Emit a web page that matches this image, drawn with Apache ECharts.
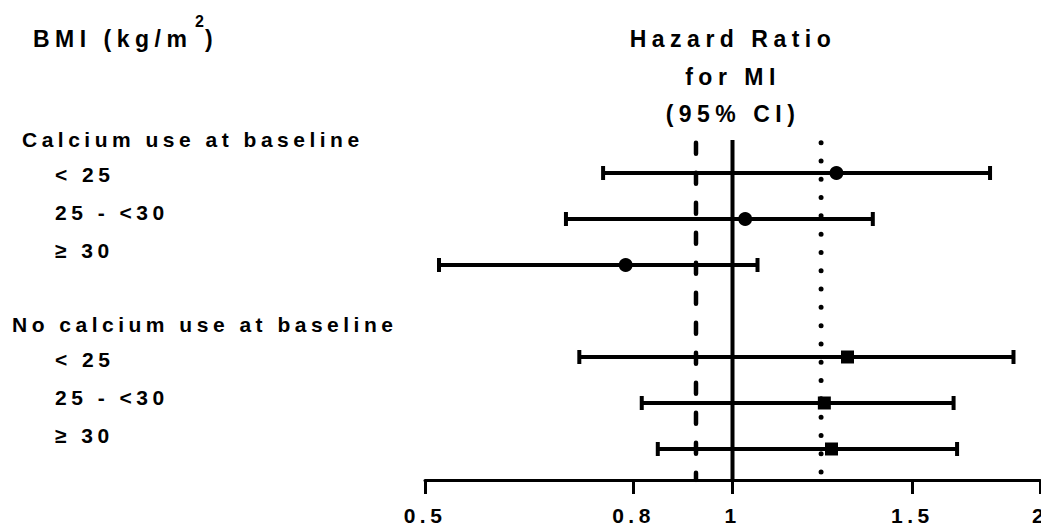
<!DOCTYPE html>
<html>
<head>
<meta charset="utf-8">
<script src="https://cdn.jsdelivr.net/npm/echarts@6/dist/echarts.min.js"></script>
<style>
html, body { margin: 0; padding: 0; background: #fff; }
#chart { width: 1041px; height: 528px; }
#chart text { letter-spacing: 4.5px; }
#chart text[style*="23px"] { letter-spacing: 5.5px; }
</style>
</head>
<body>
<div id="chart"></div>
<script>
// ---- data ----
const headerLabel = 'BMI (kg/m';
const headerSup = '2';
const titleLines = ['Hazard Ratio', 'for MI', '(95% CI)'];
const groupTitles = ['Calcium use at baseline', 'No calcium use at baseline'];
const bmiCategories = ['< 25', '25 - <30', '≥ 30'];
const rowPos = [1, 2, 3, 5, 6, 7];
const hrValues = [1.264, 1.029, 0.786, 1.296, 1.230, 1.250];
const lowerCI  = [0.747, 0.687, 0.516, 0.708, 0.815, 0.845];
const upperCI  = [1.787, 1.372, 1.058, 1.884, 1.646, 1.659];
const calciumRows = [0, 1, 2];
const noCalciumRows = [3, 4, 5];
const refLines = [0.921, 1, 1.221];
const xTicks = [0.5, 0.8, 1, 1.5, 2];

// ---- chart ----
const FONT = '"Liberation Sans", Arial, Helvetica, sans-serif';
const yMax = 7.674;
const refTop = 0.3;

const chart = echarts.init(document.getElementById('chart'), null, { renderer: 'svg' });

function txt(text, x, y, size, align) {
  return {
    type: 'text', x: x, y: y, silent: true,
    style: {
      text: text, fill: '#000',
      font: 'bold ' + size + 'px ' + FONT,
      align: align || 'left', textAlign: align || 'left',
      verticalAlign: 'middle', textVerticalAlign: 'middle'
    }
  };
}

const graphics = [];
graphics.push(txt(headerLabel, 33, 39, 23));
graphics.push(txt(headerSup, 195, 21, 16));
graphics.push(txt(')', 205, 39, 23));
titleLines.forEach((t, i) => graphics.push(txt(t, 733, 39 + i * 37.5, 23, 'center')));
const groupY = [139, 324];
const groupX = [22, 12];
const offsets = [35, 73, 111];
groupTitles.forEach((g, gi) => {
  graphics.push(txt(g, groupX[gi], groupY[gi], 21));
  bmiCategories.forEach((c, ci) => graphics.push(txt(c, 55, groupY[gi] + offsets[ci], 21)));
});

const lineStyles = [
  { color: '#000', width: 4.5, type: [11, 19], cap: 'round' },
  { color: '#000', width: 4, type: 'solid', cap: 'butt' },
  { color: '#000', width: 5, type: [0, 18.3], cap: 'round' }
];
const refSeries = refLines.map((v, i) => ({
  type: 'line',
  data: [[v, i === 1 ? 0.28 : refTop + 0.04], [v, yMax]],
  symbol: 'none',
  lineStyle: lineStyles[i],
  silent: true,
  z: 1
}));

const option = {
  animation: false,
  backgroundColor: '#fff',
  grid: { left: 425, right: 1, top: 127, bottom: 48, containLabel: false, outerBoundsMode: 'none' },
  xAxis: {
    type: 'log', logBase: 2, min: 0.5, max: 2,
    position: 'bottom',
    axisLine: { show: true, onZero: false, lineStyle: { color: '#000', width: 3 } },
    axisTick: { show: true, customValues: xTicks, length: 14, lineStyle: { color: '#000', width: 3 } },
    axisLabel: {
      customValues: xTicks,
      formatter: v => String(+Number(v).toPrecision(3)),
      margin: 25, color: '#000', fontSize: 21, fontWeight: 'bold', fontFamily: FONT
    },
    splitLine: { show: false },
    minorSplitLine: { show: false }
  },
  yAxis: { type: 'value', inverse: true, min: 0, max: yMax, show: false },
  graphic: { elements: graphics },
  series: refSeries.concat([
    {
      type: 'custom',
      z: 2,
      silent: true,
      encode: { x: [0, 1], y: 2 },
      data: rowPos.map((r, i) => [lowerCI[i], upperCI[i], r]),
      renderItem: function (params, api) {
        const lo = api.coord([api.value(0), api.value(2)]);
        const hi = api.coord([api.value(1), api.value(2)]);
        const cap = 7;
        const st = { stroke: '#000', lineWidth: 4, fill: null };
        return {
          type: 'group',
          children: [
            { type: 'line', shape: { x1: lo[0], y1: lo[1], x2: hi[0], y2: hi[1] }, style: st },
            { type: 'line', shape: { x1: lo[0], y1: lo[1] - cap, x2: lo[0], y2: lo[1] + cap }, style: st },
            { type: 'line', shape: { x1: hi[0], y1: hi[1] - cap, x2: hi[0], y2: hi[1] + cap }, style: st }
          ]
        };
      }
    },
    {
      type: 'scatter', z: 3, silent: true,
      symbol: 'circle', symbolSize: 14,
      itemStyle: { color: '#000', opacity: 1 },
      data: calciumRows.map(i => [hrValues[i], rowPos[i]])
    },
    {
      type: 'scatter', z: 3, silent: true,
      symbol: 'rect', symbolSize: 13,
      itemStyle: { color: '#000', opacity: 1 },
      data: noCalciumRows.map(i => [hrValues[i], rowPos[i]])
    }
  ])
};
chart.setOption(option);
</script>
</body>
</html>
